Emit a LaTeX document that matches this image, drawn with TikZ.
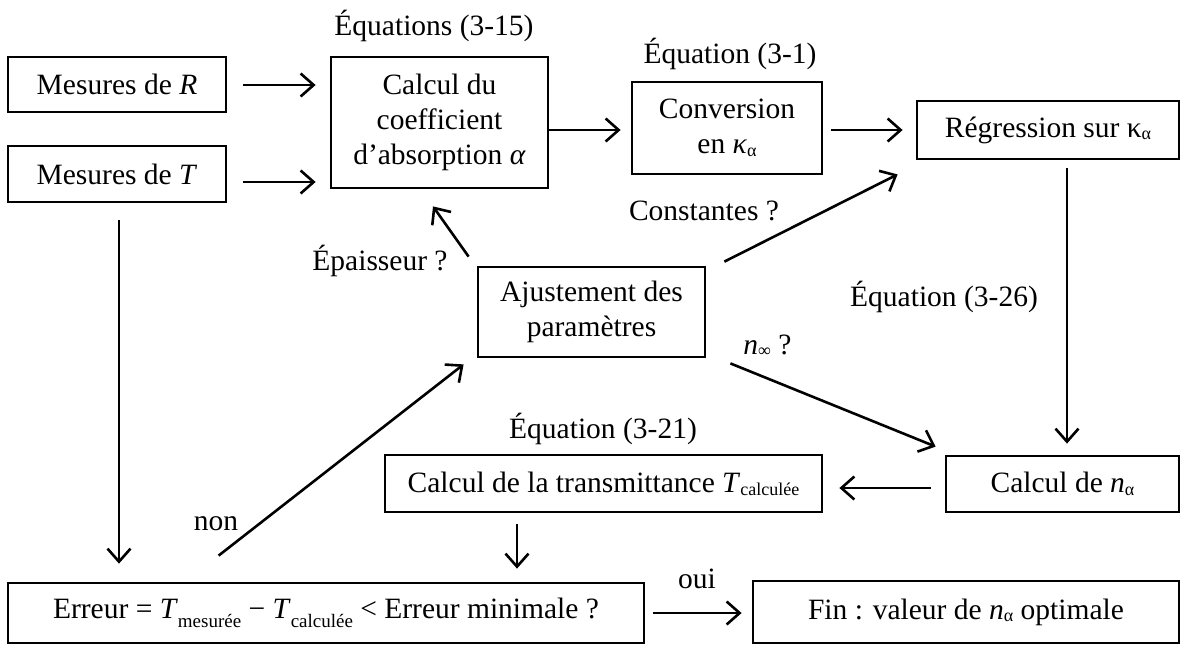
\documentclass[tikz,border=0pt]{standalone}
\usepackage{fontspec}
\setmainfont{Liberation Serif}
\usetikzlibrary{arrows.meta,calc}
\newcommand\mysub[1]{\raisebox{-0.2ex}{\fontsize{18}{18}\selectfont #1}}
\newcommand\mylowsub[1]{\raisebox{-9pt}{\fontsize{19}{19}\selectfont #1}}
\begin{document}
\begin{tikzpicture}[x=1pt,y=-1pt,line width=2.6pt,
  box/.style={draw,line width=2.8pt,inner sep=0pt,align=center,font=\fontsize{29.5}{35}\selectfont},
  lbl/.style={font=\fontsize{29.5}{35}\selectfont,inner sep=0pt,anchor=base},
  arr/.style={-{Straight Barb[length=13pt,width=23pt]}}]
\useasboundingbox (0,0) rectangle (1180,646);

\node[box,minimum width=218pt,minimum height=55pt] (mR) at (117,84.5) {Mesures de \textit{R}};
\node[box,minimum width=218pt,minimum height=56pt] (mT) at (117,174) {Mesures de \textit{T}};
\node[box,minimum width=217pt,minimum height=131pt] (calc) at (439.5,122.5) {Calcul du\\coefficient\\d’absorption \textit{α}};
\node[box,minimum width=190pt,minimum height=92pt] (conv) at (727,128) {Conversion\\en \textit{κ}\mysub{α}};
\node[box,minimum width=262pt,minimum height=58pt] (reg) at (1048,130) {Régression sur κ\mysub{α}};
\node[box,minimum width=227pt,minimum height=90pt] (ajust) at (591.5,312) {Ajustement des\\paramètres};
\node[box,minimum width=437pt,minimum height=57pt] (trans) at (603.5,483.5) {Calcul de la transmittance \textit{T}\mysub{calculée}};
\node[box,minimum width=233pt,minimum height=56pt] (calcn) at (1062.5,484) {Calcul de \textit{n}\mysub{α}};
\node[box,minimum width=636pt,minimum height=60pt] (err) at (326,613) {Erreur = \textit{T}\mylowsub{mesurée} − \textit{T}\mylowsub{calculée} < Erreur minimale ?};
\node[box,minimum width=426pt,minimum height=62pt] (fin) at (966,612) {Fin : valeur de \textit{n}\mysub{α} optimale};

\node[lbl] (l1) at (434,35) {Équations (3-15)};
\node[lbl] (l2) at (730,63) {Équation (3-1)};
\node[lbl] (l3) at (704,220) {Constantes ?};
\node[lbl] (l4) at (380,270) {Épaisseur ?};
\node[lbl] (l5) at (944,306) {Équation (3-26)};
\node[lbl,anchor=base west] (l6) at (742,354) {\textit{n}\mysub{∞} ?};
\node[lbl] (l7) at (603,438) {Équation (3-21)};
\node[lbl] (l8) at (216,530) {non};
\node[lbl] (l9) at (697,588) {oui};

\draw[arr] ($(mR.east)+(16,0.5)$) -- ($(calc.west |- mR.east)+(-14,0.5)$);
\draw[arr] ($(mT.east)+(16,8)$) -- ($(calc.west |- mT.east)+(-14,8)$);
\draw[arr] ($(calc.east)+(0,7.5)$) -- ($(conv.west |- calc.east)+(-10,7.5)$);
\draw[arr] ($(conv.east)+(8,2)$) -- ($(reg.west |- conv.east)+(-13,2)$);
\draw[arr] ($(ajust.north west)+(-8,-9)$) -- ($(calc.south)+(-6.5,17)$);
\draw[arr] ($(ajust.north east)+(18,-4)$) -- ($(reg.south west)+(-18,14)$);
\draw[arr] ($(ajust.south east)+(24,5)$) -- ($(calcn.north west)+(-9,-8)$);
\draw[arr] ($(reg.south)+(19,8)$) -- ($(calcn.north)+(4.5,-11)$);
\draw[arr] ($(calcn.west)+(-14,4)$) -- ($(trans.east)+(16,4.5)$);
\draw[arr] ($(trans.south)+(-86.5,11)$) -- ($(err.north)+(191,-13)$);
\draw[arr] ($(mT.south)+(2,17)$) -- ($(err.north)+(-207,-18)$);
\draw[arr] ($(err.north west)+(212,-26)$) -- ($(ajust.south west)+(-13,6)$);
\draw[arr] ($(err.east)+(8,0)$) -- ($(fin.west)+(-10,1)$);
\end{tikzpicture}
\end{document}
